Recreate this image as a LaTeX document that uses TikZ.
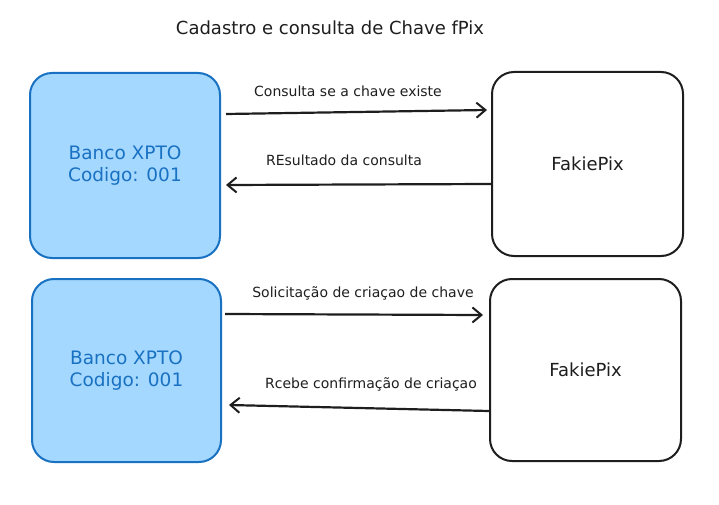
\documentclass[tikz,border=0pt]{standalone}
\usepackage{fontspec}
\setmainfont{DejaVu Sans}
\usetikzlibrary{arrows.meta}
\definecolor{bfill}{HTML}{A5D8FF}
\definecolor{bline}{HTML}{1971C2}
\definecolor{ink}{HTML}{1E1E1E}
\tikzset{
  bank/.style={draw=bline, fill=bfill, line width=2pt, rounded corners=22pt, text=bline, align=center, font=\fontsize{18.5}{22}\selectfont},
  pix/.style={draw=ink, fill=white, line width=2pt, rounded corners=22pt, text=ink, align=center, font=\fontsize{18}{22}\selectfont},
  conn/.style={draw=ink, line width=2.2pt, -{Straight Barb[length=9pt,width=15pt,line width=2pt]}},
  lbl/.style={text=ink, font=\fontsize{14}{16}\selectfont},
}
\begin{document}
\begin{tikzpicture}[x=1pt,y=-1pt]
\useasboundingbox (0,0) rectangle (719,505);
\node[text=ink, font=\fontsize{18}{20}\selectfont] (title) at (330,28) {Cadastro e consulta de Chave fPix};
\node[bank, minimum width=190pt, minimum height=185pt] (b1) at (125,165.5) {Banco XPTO\\Codigo: 001};
\node[pix, minimum width=191pt, minimum height=184pt] (p1) at (587.5,164) {FakiePix};
\node[bank, minimum width=189pt, minimum height=183pt] (b2) at (126.5,370.5) {Banco XPTO\\Codigo: 001};
\node[pix, minimum width=191pt, minimum height=182pt] (p2) at (585.5,370) {FakiePix};
\coordinate (a1s) at (226,114); \coordinate (a1e) at (487,110);
\coordinate (a2s) at (491,184); \coordinate (a2e) at (226,185);
\coordinate (a3s) at (225,314); \coordinate (a3e) at (483,315);
\coordinate (a4s) at (489,411); \coordinate (a4e) at (229,405);
\draw[conn] (a1s) -- (a1e);
\draw[conn] (a2s) -- (a2e);
\draw[conn] (a3s) -- (a3e);
\draw[conn] (a4s) -- (a4e);
\node[lbl] (l1) at (348,91) {Consulta se a chave existe};
\node[lbl] (l2) at (344,160) {REsultado da consulta};
\node[lbl] (l3) at (363,293) {Solicitação de criaçao de chave};
\node[lbl] (l4) at (371,384) {Rcebe confirmação de criaçao};
\end{tikzpicture}
\end{document}
